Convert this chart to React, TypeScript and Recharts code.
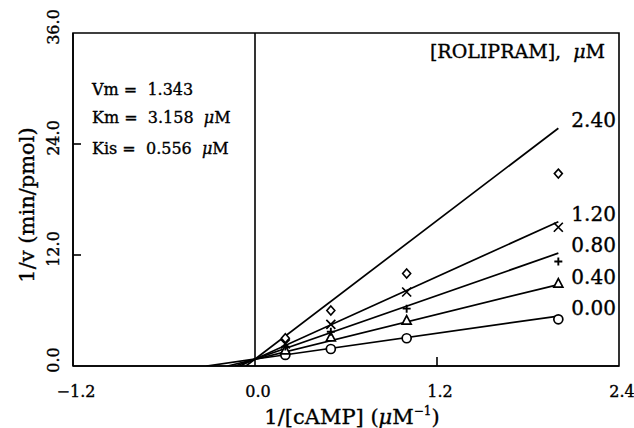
import React from 'react';
import {
  ComposedChart,
  Line,
  Scatter,
  XAxis,
  YAxis,
  ReferenceLine,
  ReferenceArea,
  Customized
} from 'recharts';

if (typeof document !== 'undefined') document.body.style.margin = '0';

const FONT = '"DejaVu Serif", serif';

const X_TICKS = [-1.2, 0, 1.2, 2.4];
const Y_TICKS = [0, 12, 24, 36];

// 1/[cAMP] values where rates were measured
const SUBSTRATE = [0.2, 0.5, 1.0, 2.0];
const ROLIPRAM = ['0.00', '0.40', '0.80', '1.20', '2.40'];

// observed 1/v, one array per rolipram concentration
const V_000 = [1.2, 1.84, 3.0, 5.05];
const V_040 = [1.7, 3.1, 4.9, 8.9];
const V_080 = [2.1, 3.7, 6.2, 11.3];
const V_120 = [2.4, 4.5, 8.0, 15.0];
const V_240 = [3.0, 6.0, 10.0, 20.8];

// fitted lines: x-intercept and end value at 1/[cAMP] = 2.0
const FIT_START = [-0.32, -0.18, -0.13, -0.1, -0.06];
const FIT_END_X = 2.0;
const FIT_END = [5.4, 8.8, 12.2, 15.6, 25.7];

const OBSERVED = [V_000, V_040, V_080, V_120, V_240];

const PLOT_LEFT = 73;
const PLOT_BOTTOM = 366;

const PRE = { whiteSpace: 'pre' as const };
const INK = { fill: '#000', stroke: '#000', strokeWidth: 0.35 };

const toPoints = (ys: number[]) => SUBSTRATE.map((x, i) => ({ x, y: ys[i] }));

const Circle = ({ cx, cy }: any) => (
  <circle cx={cx} cy={cy} r={4.5} fill="#fff" stroke="#000" strokeWidth={1.7} />
);
const Triangle = ({ cx, cy }: any) => (
  <path d={`M${cx},${cy - 5}L${cx + 4.5},${cy + 3.5}L${cx - 4.5},${cy + 3.5}Z`} fill="#fff" stroke="#000" strokeWidth={1.7} />
);
const Plus = ({ cx, cy }: any) => (
  <path d={`M${cx - 4},${cy}L${cx + 4},${cy}M${cx},${cy - 4}L${cx},${cy + 4}`} stroke="#000" strokeWidth={1.9} />
);
const Cross = ({ cx, cy }: any) => (
  <path d={`M${cx - 4.5},${cy - 4.5}L${cx + 4.5},${cy + 4.5}M${cx + 4.5},${cy - 4.5}L${cx - 4.5},${cy + 4.5}`} stroke="#000" strokeWidth={1.7} />
);
const Diamond = ({ cx, cy }: any) => (
  <path d={`M${cx},${cy - 4.5}L${cx + 4},${cy}L${cx},${cy + 4.5}L${cx - 4},${cy}Z`} fill="#fff" stroke="#000" strokeWidth={1.6} />
);
const SHAPES = [Circle, Triangle, Plus, Cross, Diamond];

const YTick = ({ y, payload }: any) => {
  const v = payload.value;
  return (
    <g>
      <text
        transform={`translate(53,${y - 6}) rotate(-90)`}
        textAnchor="middle"
        dominantBaseline="central"
        fontFamily={FONT}
        fontSize={16}
        {...INK}
      >
        {v.toFixed(1)}
      </text>
      {v > 0 && v < 36 && (
        <line x1={PLOT_LEFT} x2={PLOT_LEFT + 8} y1={y} y2={y} stroke="#000" strokeWidth={1.6} />
      )}
    </g>
  );
};

const XTick = ({ x, payload }: any) => {
  const v = payload.value;
  const label = v < 0 ? '\u2212' + Math.abs(v).toFixed(1) : v.toFixed(1);
  return (
    <g>
      <text x={x + 3} y={397} textAnchor="middle" fontFamily={FONT} fontSize={16} {...INK}>
        {label}
      </text>
      {v > 0 && v < 2.4 && (
        <line x1={x} x2={x} y1={PLOT_BOTTOM} y2={PLOT_BOTTOM - 9} stroke="#000" strokeWidth={1.6} />
      )}
    </g>
  );
};

const lineLabel = (name: string) => (p: any) => {
  if (p.index !== 1) return null;
  return (
    <text x={p.x + 13} y={p.y - 1} fontFamily={FONT} fontSize={20} {...INK}>
      {name}
    </text>
  );
};

const Annotations = () => (
  <g fontFamily={FONT} {...INK}>
    <text x={92} y={95} fontSize={16} style={PRE}>Vm =  1.343</text>
    <text x={92} y={123} fontSize={16} style={PRE}>
      Km =  3.158  <tspan fontStyle="italic">μ</tspan>M
    </text>
    <text x={92} y={154} fontSize={16} style={PRE}>
      Kis =  0.556  <tspan fontStyle="italic">μ</tspan>M
    </text>
    <text x={605} y={58} fontSize={19} textAnchor="end" style={PRE}>
      [ROLIPRAM],  <tspan fontStyle="italic">μ</tspan>M
    </text>
    <text transform="translate(34,205) rotate(-90)" textAnchor="middle" fontSize={21}>
      1/v (min/pmol)
    </text>
    <text x={352} y={424} textAnchor="middle" fontSize={21}>
      1/[cAMP] (<tspan fontStyle="italic">μ</tspan>M<tspan fontSize={12} dy={-9}>−1</tspan><tspan dy={9}>)</tspan>
    </text>
  </g>
);

export default function App() {
  return (
    <div style={{ width: 634, height: 428, background: '#fff' }}>
      <ComposedChart width={634} height={428} margin={{ top: 33, right: 15, left: 8, bottom: 22 }}>
        <XAxis
          type="number"
          dataKey="x"
          domain={[-1.2, 2.4]}
          ticks={X_TICKS}
          allowDataOverflow
          height={40}
          axisLine={{ stroke: '#000', strokeWidth: 1.6 }}
          tickLine={false}
          tick={<XTick />}
        />
        <YAxis
          type="number"
          dataKey="y"
          domain={[0, 36]}
          ticks={Y_TICKS}
          allowDataOverflow
          width={65}
          axisLine={{ stroke: '#000', strokeWidth: 1.6 }}
          tickLine={false}
          tick={<YTick />}
        />
        <ReferenceArea x1={-1.2} x2={2.4} y1={0} y2={36} fill="none" fillOpacity={0} stroke="#000" strokeWidth={1.6} ifOverflow="visible" />
        <ReferenceLine x={0} stroke="#000" strokeWidth={1.6} />
        {ROLIPRAM.map((name, i) => (
          <Line
            key={`fit-${name}`}
            data={[{ x: FIT_START[i], y: 0 }, { x: FIT_END_X, y: FIT_END[i] }]}
            dataKey="y"
            type="linear"
            stroke="#000"
            strokeWidth={1.7}
            dot={false}
            activeDot={false}
            label={lineLabel(name)}
            isAnimationActive={false}
          />
        ))}
        {ROLIPRAM.map((name, i) => (
          <Scatter
            key={`obs-${name}`}
            data={toPoints(OBSERVED[i])}
            shape={SHAPES[i]}
            isAnimationActive={false}
          />
        ))}
        <Customized component={Annotations} />
      </ComposedChart>
    </div>
  );
}
